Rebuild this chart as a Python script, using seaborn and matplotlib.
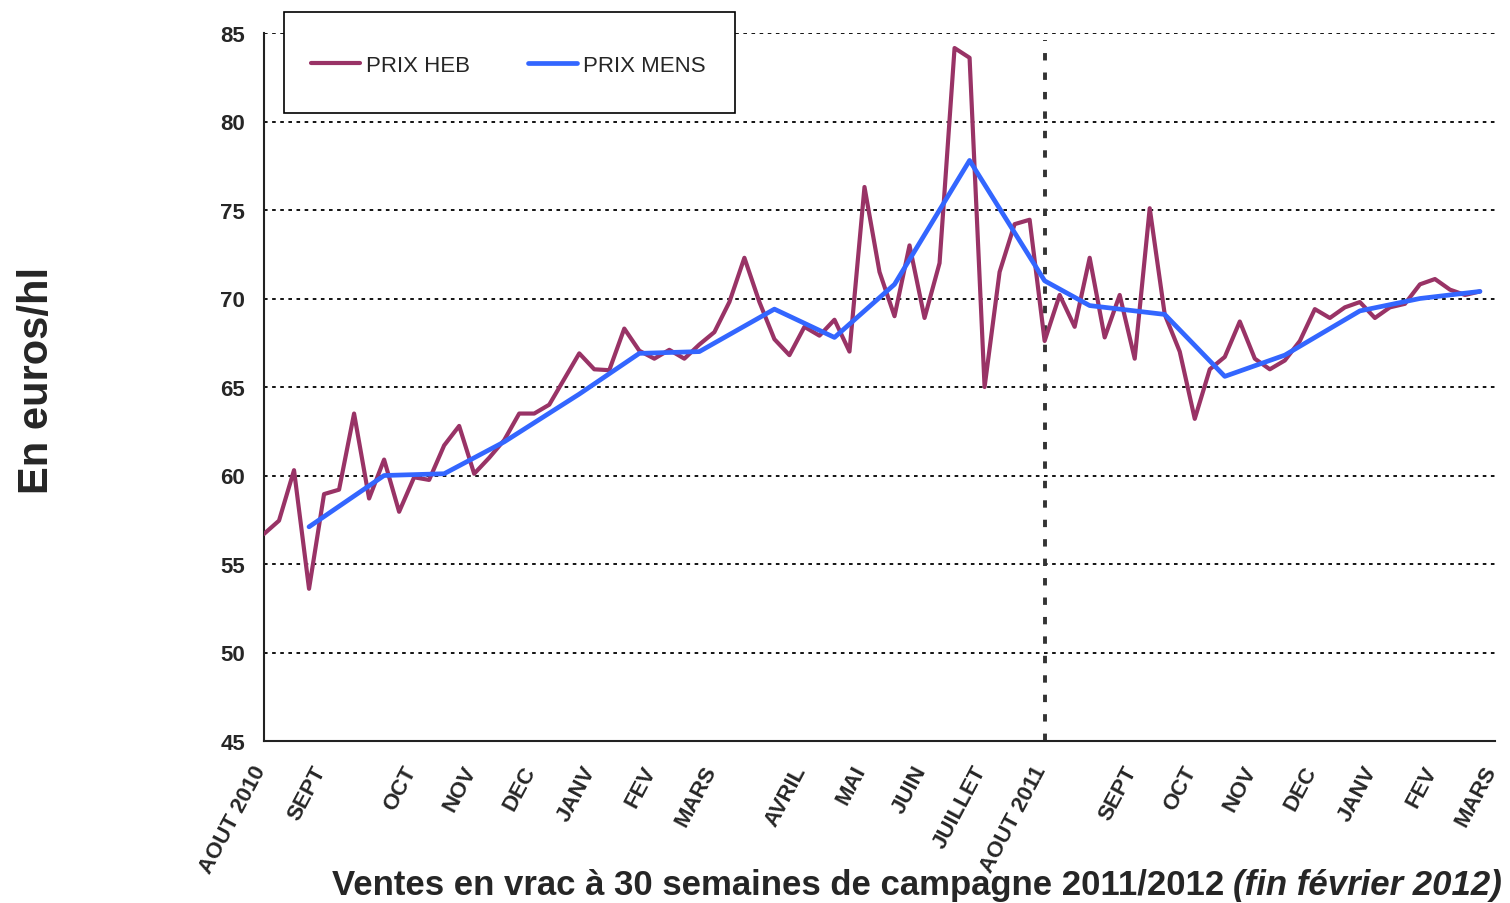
import matplotlib
matplotlib.use("Agg")
import matplotlib.pyplot as plt
import matplotlib.transforms as mtransforms
import seaborn as sns
import pandas as pd
import numpy as np
from matplotlib.patches import Rectangle

# ---------------- data ----------------
prix_heb = [56.7, 57.45, 60.3, 53.6, 58.95, 59.2, 63.5, 58.7, 60.9, 57.95,
            59.9, 59.75, 61.7, 62.8, 60.1, 61.0, 62.0, 63.5, 63.5, 64.0,
            65.45, 66.9, 66.0, 65.95, 68.3, 67.05, 66.6, 67.1, 66.6, 67.4,
            68.1, 69.8, 72.3, 69.8, 67.7, 66.8, 68.4, 67.9, 68.8, 67.0,
            76.3, 71.5, 69.0, 73.0, 68.9, 72.0, 84.15, 83.6, 65.0, 71.5,
            74.2, 74.45, 67.6, 70.2, 68.4, 72.3, 67.8, 70.2, 66.6, 75.1,
            69.1, 67.0, 63.2, 66.0, 66.7, 68.7, 66.6, 66.0, 66.5, 67.6,
            69.4, 68.9, 69.5, 69.8, 68.9, 69.5, 69.7, 70.8, 71.1, 70.5,
            70.2, 70.4]

prix_mens_semaine = [3, 8, 12, 16, 21, 25, 29, 34, 38, 42, 47, 52, 55, 60,
                     64, 68, 73, 77, 81]
prix_mens = [57.1, 60.0, 60.1, 61.9, 64.6, 66.9, 67.0, 69.4, 67.8, 70.8,
             77.8, 71.0, 69.6, 69.1, 65.6, 66.8, 69.3, 70.0, 70.4]

mois = ["AOUT 2010", "SEPT", "OCT", "NOV", "DEC", "JANV", "FEV", "MARS",
        "AVRIL", "MAI", "JUIN", "JUILLET", "AOUT 2011", "SEPT", "OCT", "NOV",
        "DEC", "JANV", "FEV", "MARS"]
mois_pos = [0, 4, 10, 14, 18, 22, 26, 30, 36, 40, 44, 48, 52, 58, 62, 66,
            70, 74, 78, 82]
n_categories = 83
debut_campagne = "AOUT 2011"

yticks = [45, 50, 55, 60, 65, 70, 75, 80, 85]

# ---------------- style ----------------
sns.set_style("white")
plt.rcParams['font.family'] = ['Liberation Sans', 'DejaVu Sans']

W, H = 1510, 904
fig = plt.figure(figsize=(W / 100, H / 100), dpi=100)
ax = fig.add_axes([264 / W, 1 - 742 / H, (1495 - 264) / W, (742 - 34) / H])

df_heb = pd.DataFrame({"semaine": np.arange(len(prix_heb)), "prix": prix_heb})
df_mens = pd.DataFrame({"semaine": prix_mens_semaine, "prix": prix_mens})

sns.lineplot(data=df_heb, x="semaine", y="prix", ax=ax, color="#993366",
             linewidth=3.0, label="PRIX HEB", zorder=3)
sns.lineplot(data=df_mens, x="semaine", y="prix", ax=ax, color="#3366FF",
             linewidth=3.4, label="PRIX MENS", zorder=4)

handles, labels = ax.get_legend_handles_labels()
ax.get_legend().remove()

ax.set_xlim(0, n_categories - 1)
ax.set_ylim(yticks[0], yticks[-1])
ax.set_yticks(yticks)
ax.set_xticks(range(n_categories))
xt = [''] * n_categories
for p, m in zip(mois_pos, mois):
    xt[p] = m
ax.set_xticklabels(xt, rotation=62, ha='right', va='top', fontsize=16,
                   fontweight='bold')
ax.set_yticklabels([str(v) for v in yticks], fontsize=16, fontweight='bold')
ax.tick_params(axis='x', direction='inout', length=8, width=1.3, pad=11,
               color='#222222')
ax.tick_params(axis='y', direction='inout', length=15, width=1.3, pad=6,
               color='#222222')
ax.set_xlabel('')
ax.set_ylabel('')

shift = mtransforms.ScaledTranslation(6 / 100, 0, fig.dpi_scale_trans)
for lbl in ax.get_xticklabels():
    lbl.set_transform(lbl.get_transform() + shift)

for s in ['top', 'right']:
    ax.spines[s].set_visible(False)
for s in ['left', 'bottom']:
    ax.spines[s].set_color('#222222')
    ax.spines[s].set_linewidth(1.5)

ax.grid(axis='y', color='black', linestyle=(0, (2, 2.5)), linewidth=1.3)
ax.grid(axis='x', visible=False)
ax.set_axisbelow(True)

ax.axvline(mois_pos[mois.index(debut_campagne)], color='#333333', lw=2.8,
           linestyle=(0, (1.9, 3.1)), ymax=0.99, zorder=2)

# legend with box
fig.patches.append(Rectangle((284 / W, 1 - 114 / H), 451 / W, 101 / H,
                             transform=fig.transFigure, facecolor='white',
                             edgecolor='black', lw=1.2, zorder=3))
fig.legend(handles, labels, loc='center left',
           bbox_to_anchor=(311 / W, 1 - 66 / H), ncol=2, frameon=False,
           fontsize=16, handlelength=2.2, handletextpad=0.27,
           columnspacing=2.6, borderpad=0, borderaxespad=0)

# axis titles
fig.text(37 / W, 1 - 380 / H, "En euros/hl", rotation=90, fontsize=30,
         fontweight='bold', ha='center', va='center')

t1 = fig.text(332 / W, 1 - 895 / H,
              "Ventes en vrac à 30 semaines de campagne 2011/2012",
              fontsize=25, fontweight='bold', ha='left', va='baseline')
fig.canvas.draw()
bb = t1.get_window_extent()
fig.text((bb.x1 + 9) / W, 1 - 895 / H, "(fin février 2012)", fontsize=25,
         fontweight='bold', style='italic', ha='left', va='baseline')

fig.savefig('out.png', dpi=100)
